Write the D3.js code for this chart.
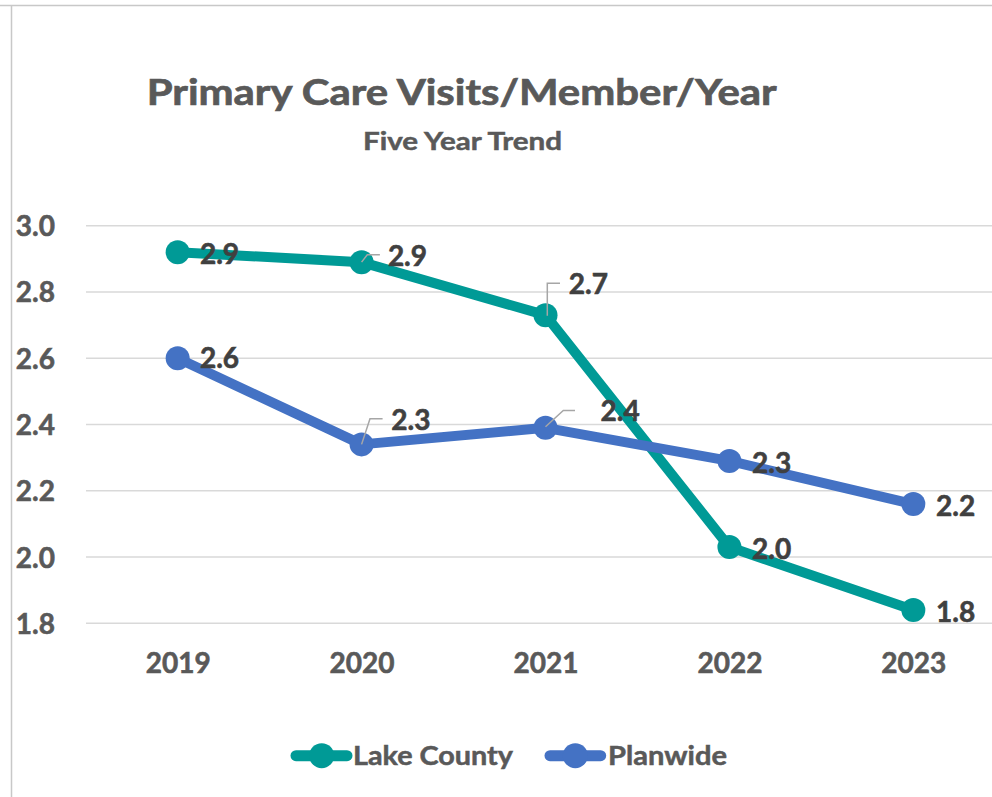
<!DOCTYPE html>
<html>
<head>
<meta charset="utf-8">
<script src="https://cdn.jsdelivr.net/npm/d3@7"></script>
<style>
  html, body { margin: 0; padding: 0; background: #fff; }
  svg { display: block; font-family: Lato, "Open Sans", sans-serif; }
</style>
</head>
<body>
<svg id="chart" width="992" height="797"></svg>
<script>
const years = ["2019", "2020", "2021", "2022", "2023"];
const lakeCounty = [2.92, 2.89, 2.73, 2.03, 1.84];
const planwide = [2.60, 2.34, 2.39, 2.29, 2.16];
const yTicks = [1.8, 2.0, 2.2, 2.4, 2.6, 2.8, 3.0];
const seriesNames = ["Lake County", "Planwide"];
const titleText = "Primary Care Visits/Member/Year";
const subtitleText = "Five Year Trend";

const colors = { "Lake County": "#009a96", "Planwide": "#4472c4" };

// label placement (styling): offsets from point to label left / cap centre, and leader paths
const labelLayout = {
  "Lake County": [
    { dx: 22.3, dy: 1.3 },
    { dx: 26.3, dy: -6, leader: [[0, 0], [5.7, -7.4], [18.3, -7.4]] },
    { dx: 23.3, dy: -31, leader: [[1.8, 0.7], [1.8, -32], [14.5, -32]] },
    { dx: 22.7, dy: 1.7 },
    { dx: 22.7, dy: 1.7 }
  ],
  "Planwide": [
    { dx: 22.3, dy: 0 },
    { dx: 29.7, dy: -24.3, leader: [[0, 0], [8.4, -25.6], [21, -25.6]] },
    { dx: 55, dy: -17, leader: [[0, -1], [17.8, -17.4], [29.5, -17.4]] },
    { dx: 22.7, dy: 1.7 },
    { dx: 22.7, dy: 1.7 }
  ]
};

const svg = d3.select("#chart");

// outer chart frame
svg.append("line").attr("x1", 0).attr("x2", 992).attr("y1", 5.5).attr("y2", 5.5)
  .attr("stroke", "#c8c8c8").attr("stroke-width", 1.5);
svg.append("line").attr("x1", 11.5).attr("x2", 11.5).attr("y1", 5.5).attr("y2", 797)
  .attr("stroke", "#c8c8c8").attr("stroke-width", 1.5);

// scales
const x = d3.scalePoint().domain(years).range([85.7, 1005.3]).padding(0.5);
const y = d3.scaleLinear().domain([1.8, 3.0]).range([623.3, 225.7]);

// gridlines
svg.append("g").selectAll("line").data(yTicks).join("line")
  .attr("x1", 86).attr("x2", 1005)
  .attr("y1", d => y(d)).attr("y2", d => y(d))
  .attr("stroke", "#d9d9d9").attr("stroke-width", 1.6);

// y axis labels
const yAxis = d3.axisLeft(y).tickValues(yTicks).tickFormat(d3.format(".1f")).tickSize(0).tickPadding(0);
const yg = svg.append("g").attr("transform", "translate(55,0)").call(yAxis);
yg.select(".domain").remove();
yg.selectAll("text")
  .attr("font-family", "Lato, sans-serif").attr("font-weight", 700).attr("font-size", 28)
  .attr("fill", "#595959").attr("stroke", "#595959").attr("stroke-width", 0.6)
  .attr("dy", 10).attr("dominant-baseline", "auto");

// x axis labels
const xAxis = d3.axisBottom(x).tickSize(0).tickPadding(0);
const xg = svg.append("g").attr("transform", "translate(0,663)").call(xAxis);
xg.select(".domain").remove();
xg.selectAll("text")
  .attr("font-family", "Lato, sans-serif").attr("font-weight", 700).attr("font-size", 28)
  .attr("fill", "#595959").attr("stroke", "#595959").attr("stroke-width", 0.6)
  .attr("y", 0).attr("dy", 10);

// title
svg.append("text").attr("x", 146.7).attr("y", 105).text(titleText)
  .attr("font-weight", 700).attr("font-size", 37).attr("fill", "#595959")
  .attr("stroke", "#595959").attr("stroke-width", 0.7)
  .attr("textLength", 630).attr("lengthAdjust", "spacingAndGlyphs");
svg.append("text").attr("x", 363).attr("y", 150).text(subtitleText)
  .attr("font-weight", 700).attr("font-size", 25).attr("fill", "#595959")
  .attr("stroke", "#595959").attr("stroke-width", 0.5)
  .attr("textLength", 199).attr("lengthAdjust", "spacingAndGlyphs");

// series
const series = [
  { name: "Lake County", values: lakeCounty },
  { name: "Planwide", values: planwide }
];
const line = d3.line().x((d, i) => x(years[i])).y(d => y(d));

series.forEach(s => {
  const g = svg.append("g");
  g.append("path").datum(s.values).attr("d", line)
    .attr("fill", "none").attr("stroke", colors[s.name]).attr("stroke-width", 10)
    .attr("stroke-linejoin", "round");
  g.selectAll("circle").data(s.values).join("circle")
    .attr("cx", (d, i) => x(years[i])).attr("cy", d => y(d)).attr("r", 12)
    .attr("fill", colors[s.name]);
});

// data labels & leaders
const fmt = d3.format(".1f");
series.forEach(s => {
  const g = svg.append("g");
  s.values.forEach((v, i) => {
    const px = x(years[i]), py = y(v);
    const L = labelLayout[s.name][i];
    if (L.leader) {
      g.append("path")
        .attr("d", d3.line()(L.leader.map(p => [px + p[0], py + p[1]])))
        .attr("fill", "none").attr("stroke", "#a6a6a6").attr("stroke-width", 1.5);
    }
    g.append("text").attr("x", px + L.dx).attr("y", py + L.dy + 10)
      .text(fmt(v))
      .attr("font-weight", 700).attr("font-size", 28).attr("fill", "#404040")
      .attr("stroke", "#404040").attr("stroke-width", 0.6);
  });
});

// legend
const legendItems = [
  { name: seriesNames[0], x0: 290, x1: 353, cx: 321.7, tx: 353, tw: 160 },
  { name: seriesNames[1], x0: 544, x1: 606.7, cx: 575.3, tx: 608, tw: 119 }
];
const lg = svg.append("g");
legendItems.forEach(it => {
  lg.append("line").attr("x1", it.x0 + 6).attr("x2", it.x1 - 6)
    .attr("y1", 755.7).attr("y2", 755.7)
    .attr("stroke", colors[it.name]).attr("stroke-width", 11).attr("stroke-linecap", "round");
  lg.append("circle").attr("cx", it.cx).attr("cy", 755.7).attr("r", 12.5).attr("fill", colors[it.name]);
  lg.append("text").attr("x", it.tx).attr("y", 764.5).text(it.name)
    .attr("font-weight", 700).attr("font-size", 26).attr("fill", "#595959")
    .attr("stroke", "#595959").attr("stroke-width", 0.5)
    .attr("textLength", it.tw).attr("lengthAdjust", "spacingAndGlyphs");
});
</script>
</body>
</html>
